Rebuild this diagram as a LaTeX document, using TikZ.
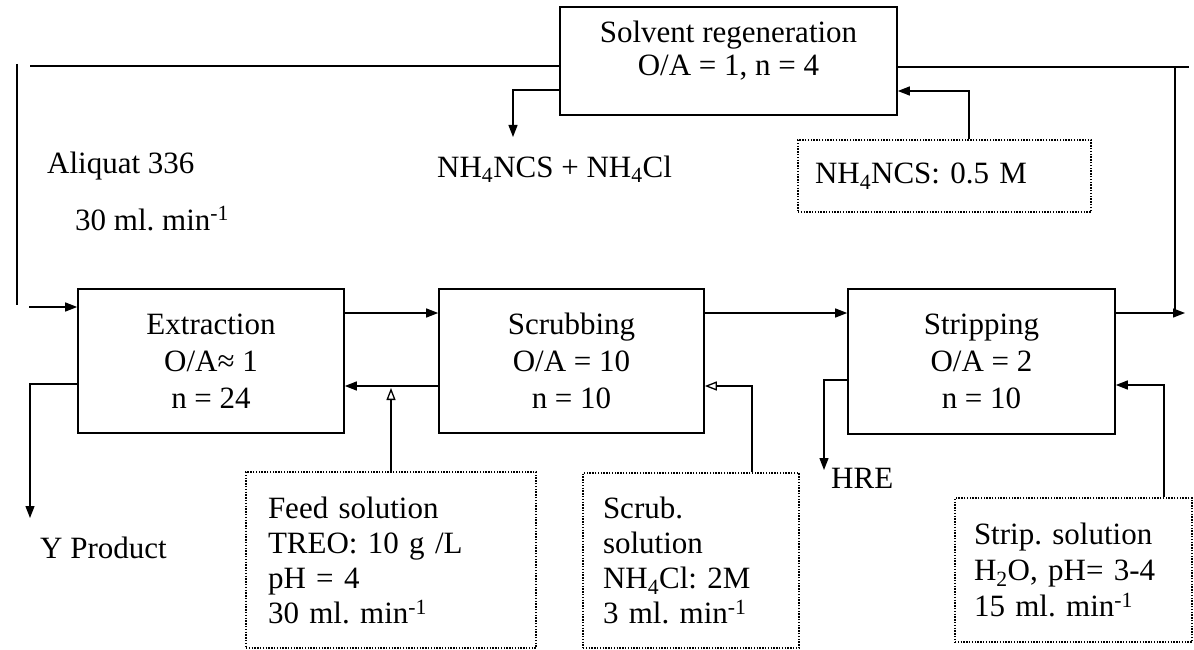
\documentclass[tikz,border=0pt]{standalone}
\usepackage{fontspec}
\setmainfont{Liberation Serif}
\usetikzlibrary{arrows.meta}
\frenchspacing
\begin{document}
\begin{tikzpicture}[x=1pt,y=-1pt,
  every node/.style={font=\fontsize{31}{37}\selectfont, inner sep=0pt},
  procbox/.style={draw, line width=1.6pt, align=center},
  solbox/.style={draw, line width=1.4pt, dash pattern=on 1.4pt off 1.4pt, align=left},
  conn/.style={line width=1.3pt},
  arr/.style={conn, -{Triangle[length=12pt,width=9pt]}},
  oarr/.style={conn, -{Triangle[open,length=12pt,width=9pt]}},
  lbl/.style={anchor=base west}]
\useasboundingbox (0,0) rectangle (1194,650);

% process boxes
\node[procbox, minimum width=337pt, minimum height=108pt] (solv) at (728.5,61) {};
\node[align=center, font=\fontsize{31}{33}\selectfont] (solvtxt) at (728.5,51) {Solvent regeneration\\O/A = 1, n = 4};
\node[procbox, minimum width=266pt, minimum height=144pt] (ext) at (211,361) {Extraction\\O/A≈ 1\\n = 24};
\node[procbox, minimum width=265pt, minimum height=144pt] (scr) at (571.5,361) {Scrubbing\\O/A = 10\\n = 10};
\node[procbox, minimum width=267pt, minimum height=145pt] (strp) at (981.5,361.5) {Stripping\\O/A = 2\\n = 10};

% solution boxes
\node[solbox, text width=259pt, inner xsep=17pt, minimum height=72pt] (nh4) at (944.5,176) {NH\textsubscript{4}NCS: 0.5 M};
\node[solbox, text width=246pt, inner xsep=22pt, minimum height=176pt, font=\fontsize{31}{35}\selectfont] (feed) at (391,560) {Feed solution\\TREO: 10 g /L\\pH = 4\\30 ml. min\textsuperscript{-1}};
\node[solbox, text width=176pt, inner xsep=20pt, minimum height=175pt, font=\fontsize{31}{35}\selectfont] (scrsol) at (691,560.5) {Scrub.\\solution\\NH\textsubscript{4}Cl: 2M\\3 ml. min\textsuperscript{-1}};
\node[solbox, text width=199pt, inner xsep=19pt, minimum height=144pt, font=\fontsize{31}{36}\selectfont] (stripsol) at (1073.5,570) {Strip. solution\\H\textsubscript{2}O, pH= 3-4\\15 ml. min\textsuperscript{-1}};

% labels
\node[lbl] (aliq) at (47,173) {Aliquat 336};
\node[lbl] (flow) at (75,230) {30 ml. min\textsuperscript{-1}};
\node[lbl] (nhprod) at (437,177) {NH\textsubscript{4}NCS + NH\textsubscript{4}Cl};
\node[lbl] (yprod) at (40,558) {Y Product};
\node[lbl] (hre) at (831,488) {HRE};

% coordinates
\coordinate (tl) at (30,66);
\coordinate (lvtop) at (17,64);
\coordinate (lvbot) at (17,305);
\coordinate (inext) at (29,307);
\coordinate (nhh) at (513,90);
\coordinate (nhtip) at (513,137);
\coordinate (tr) at (1189,67);
\coordinate (rvtop) at (1175,67);
\coordinate (rvbot) at (1175,313);
\coordinate (nhv) at (969,91);
\coordinate (y1) at (0,313);
\coordinate (y2) at (0,386);
\coordinate (outtip) at (1185,313);
\coordinate (fv) at (391,388);
\coordinate (sv) at (752,386);
\coordinate (stv) at (1164,385);
\coordinate (yv) at (30,384);
\coordinate (ytip) at (30,518);
\coordinate (hv) at (824,380);
\coordinate (htip) at (824,470);

% connectors
\draw[conn] (tl) -- (solv.west |- tl);
\draw[conn] (lvtop) -- (lvbot);
\draw[arr] (inext) -- (ext.west |- inext);
\draw[arr] (solv.west |- nhh) -| (nhtip);
\draw[conn] (solv.east |- tr) -- (tr);
\draw[conn] (rvtop) -- (rvbot);
\draw[arr] (nh4.north -| nhv) |- (solv.east |- nhv);
\draw[arr] (ext.east |- y1) -- (scr.west |- y1);
\draw[arr] (scr.west |- y2) -- (ext.east |- y2);
\draw[arr] (scr.east |- y1) -- (strp.west |- y1);
\draw[arr] (strp.east |- y1) -- (outtip);
\draw[oarr] (feed.north -| fv) -- (fv);
\draw[oarr] (scrsol.north -| sv) |- (scr.east |- sv);
\draw[arr] (stripsol.north -| stv) |- (strp.east |- stv);
\draw[arr] (ext.west |- yv) -| (ytip);
\draw[arr] (strp.west |- hv) -| (htip);
\end{tikzpicture}
\end{document}
